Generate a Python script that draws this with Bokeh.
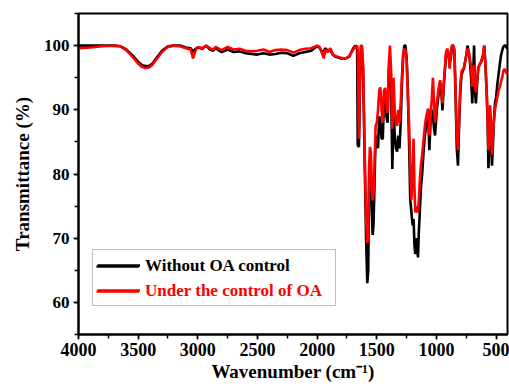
from bokeh.plotting import figure
from bokeh.models import Range1d, SingleIntervalTicker, Legend, LegendItem, ColumnDataSource
from bokeh.embed import file_html
from bokeh.resources import INLINE

# ---- data ----
wavenumber = [4000, 3900, 3800, 3700, 3650, 3600, 3550, 3500, 3470, 3440, 3410, 3380, 3350, 3300, 3250,
              3200, 3150, 3100, 3060, 3040, 3020, 3000, 2960, 2930, 2900, 2870, 2850, 2820, 2800, 2750,
              2700, 2650, 2600, 2550, 2500, 2450, 2400, 2350, 2300, 2250, 2200, 2150, 2100, 2050, 2000,
              1980, 1960, 1945, 1930, 1910, 1890, 1870, 1850, 1800, 1760, 1730, 1700, 1680, 1665, 1660,
              1650, 1640, 1632, 1625, 1615, 1600, 1590, 1580, 1572, 1565, 1558, 1550, 1542, 1535, 1528,
              1520, 1510, 1500, 1490, 1480, 1470, 1460, 1450, 1440, 1430, 1420, 1410, 1400, 1390, 1380,
              1370, 1360, 1350, 1340, 1330, 1320, 1310, 1300, 1290, 1280, 1270, 1260, 1250, 1240, 1230,
              1220, 1210, 1200, 1192, 1185, 1178, 1170, 1163, 1155, 1148, 1140, 1130, 1120, 1110, 1100,
              1090, 1080, 1070, 1060, 1050, 1040, 1030, 1020, 1012, 1005, 997, 985, 970, 960, 950,
              940, 930, 920, 910, 900, 890, 880, 870, 860, 850, 840, 830, 820, 810, 800,
              790, 770, 750, 740, 730, 720, 710, 700, 692, 685, 678, 670, 660, 650, 640,
              625, 610, 600, 590, 580, 572, 565, 558, 550, 542, 535, 528, 520, 510, 500,
              490, 480, 470, 460, 450, 440, 430, 420, 410, 405]

without_oa = [100.0, 100.0, 100.0, 100.0, 99.9, 99.4, 98.5, 97.5, 97.0, 96.8, 96.8, 97.2, 98.0, 99.2, 99.9,
              100.0, 100.0, 99.7, 99.6, 99.0, 99.5, 99.7, 99.5, 100.0, 99.4, 99.2, 99.6, 99.2, 99.0, 99.4,
              99.0, 99.1, 98.8, 98.7, 98.6, 98.8, 98.6, 98.7, 98.9, 98.8, 98.4, 98.8, 99.0, 99.2, 99.9,
              99.7, 99.0, 99.2, 99.6, 99.1, 99.3, 98.6, 98.3, 98.0, 98.0, 98.3, 99.5, 100.0, 99.5, 84.5,
              84.2, 95.0, 100.0, 99.5, 96.0, 80.0, 70.0, 63.0, 65.0, 78.0, 82.0, 80.0, 74.0, 70.5, 72.0,
              78.0, 86.0, 85.0, 84.0, 89.0, 88.0, 85.5, 85.5, 92.0, 93.0, 89.0, 88.0, 96.0, 97.0, 93.0,
              80.8, 90.0, 86.0, 84.0, 83.5, 86.0, 84.0, 88.0, 94.0, 98.0, 100.0, 100.0, 98.0, 93.0, 85.0,
              76.0, 74.0, 72.0, 73.0, 69.0, 67.5, 70.0, 69.0, 67.0, 71.0, 74.0, 78.0, 80.0, 83.0, 85.5,
              87.0, 88.5, 89.5, 83.7, 88.0, 90.0, 89.0, 87.0, 86.0, 88.0, 90.0, 92.0, 94.0, 93.0, 89.9,
              93.5, 96.0, 98.5, 99.3, 98.5, 97.5, 98.0, 100.0, 100.0, 99.0, 92.0, 84.0, 81.3, 88.0, 93.0,
              95.5, 96.5, 98.5, 100.0, 99.0, 97.5, 95.0, 91.0, 96.0, 100.0, 93.0, 91.0, 94.0, 96.5, 97.0,
              97.5, 98.5, 100.0, 97.0, 93.0, 88.8, 80.9, 84.0, 89.0, 86.0, 81.3, 84.0, 88.0, 91.0, 92.0,
              94.0, 95.5, 97.0, 98.4, 99.2, 99.8, 100.0, 100.0, 99.6, 99.5]

under_oa = [99.6, 99.7, 99.9, 100.0, 99.9, 99.3, 98.3, 97.2, 96.7, 96.5, 96.6, 97.0, 97.8, 99.0, 99.8,
            100.0, 99.9, 99.6, 99.4, 98.0, 99.2, 99.8, 99.6, 100.0, 99.6, 99.4, 99.8, 99.5, 99.3, 99.8,
            99.4, 99.5, 99.2, 99.1, 99.2, 99.4, 99.0, 99.3, 99.4, 99.3, 98.9, 99.3, 99.5, 99.6, 100.0,
            99.8, 98.9, 98.0, 99.4, 99.0, 99.6, 98.7, 98.4, 98.1, 98.0, 98.4, 99.3, 99.8, 100.0, 99.0,
            85.5, 97.0, 100.0, 100.0, 97.0, 82.0, 73.0, 69.3, 70.0, 81.0, 84.2, 83.5, 78.0, 75.9, 77.0,
            81.0, 87.5, 88.0, 90.0, 93.0, 93.5, 90.0, 88.0, 93.0, 93.4, 91.0, 89.5, 97.0, 100.0, 96.0,
            87.0, 95.0, 90.0, 88.0, 87.5, 90.0, 88.0, 91.0, 95.0, 98.5, 99.5, 99.3, 97.5, 92.0, 88.0,
            81.0, 76.0, 80.0, 85.5, 78.0, 74.0, 75.0, 74.5, 74.0, 76.0, 79.0, 81.5, 83.0, 85.0, 87.0,
            88.5, 89.5, 90.2, 86.0, 89.0, 91.5, 95.0, 91.0, 88.0, 89.5, 91.0, 93.0, 94.6, 93.5, 91.0,
            94.0, 96.5, 99.0, 99.5, 99.0, 96.4, 98.5, 100.0, 100.0, 99.5, 93.0, 86.0, 83.7, 89.0, 94.0,
            96.0, 96.5, 98.5, 99.5, 99.0, 98.0, 96.5, 93.6, 96.0, 97.0, 94.0, 92.7, 94.5, 96.5, 97.0,
            97.5, 98.5, 100.0, 97.0, 93.0, 89.0, 83.7, 85.0, 90.7, 87.0, 83.0, 86.0, 88.0, 90.0, 91.0,
            92.0, 93.0, 93.5, 94.3, 95.0, 96.0, 96.4, 96.0, 95.6, 95.5]

series_labels = ["Without OA control", "Under the control of OA"]
series_colors = ["#000000", "#ff0000"]
x_ticks_interval = 500
y_ticks_interval = 10

FONT = "Liberation Serif"

src = ColumnDataSource(dict(x=wavenumber, b=without_oa, r=under_oa))

p = figure(width=509, height=387, output_backend="svg", toolbar_location=None,
           x_range=Range1d(4000, 405), y_range=Range1d(55, 105),
           min_border_left=78, min_border_right=2, min_border_top=13, min_border_bottom=53)
p.background_fill_color = "white"
p.border_fill_color = "white"
p.outline_line_color = "black"
p.outline_line_width = 2
p.xgrid.visible = False
p.ygrid.visible = False

rb = p.line("x", "b", source=src, line_color=series_colors[0], line_width=2.6)
rr = p.line("x", "r", source=src, line_color=series_colors[1], line_width=2.6)

p.xaxis.ticker = SingleIntervalTicker(interval=x_ticks_interval, num_minor_ticks=2)
p.yaxis.ticker = SingleIntervalTicker(interval=y_ticks_interval, num_minor_ticks=2)
p.xaxis.axis_label = "Wavenumber (cm\u207b\u00b9)"
p.yaxis.axis_label = "Transmittance (%)"

for ax in (p.xaxis[0], p.yaxis[0]):
    ax.axis_line_color = "black"
    ax.axis_line_width = 2
    ax.major_tick_line_color = "black"
    ax.major_tick_line_width = 1.5
    ax.minor_tick_line_color = "black"
    ax.minor_tick_line_width = 1.5
    ax.major_tick_in = 0
    ax.major_tick_out = 5
    ax.minor_tick_in = 0
    ax.minor_tick_out = 4
    ax.major_label_text_font = FONT
    ax.major_label_text_font_style = "bold"
    ax.major_label_text_color = "black"
    ax.axis_label_text_font = FONT
    ax.axis_label_text_font_style = "bold"
    ax.axis_label_text_color = "black"

p.xaxis.major_label_text_font_size = "18px"
p.yaxis.major_label_text_font_size = "17px"
p.xaxis.axis_label_text_font_size = "19px"
p.yaxis.axis_label_text_font_size = "19px"
p.xaxis.major_label_standoff = 3
p.xaxis.axis_label_standoff = 2
p.yaxis.major_label_standoff = 4
p.yaxis.axis_label_standoff = 8

# legend: box + two rows (second row in red text)
PAD = 4
ROW_H = 22
SPACING = 3
LEG_X, LEG_Y = 14, 28
common = dict(padding=PAD, spacing=SPACING, glyph_width=43, glyph_height=ROW_H,
              label_height=ROW_H, label_standoff=6, margin=0,
              label_text_font=FONT, label_text_font_style="bold", label_text_font_size="17px")

box = Legend(items=[LegendItem(label=" ", renderers=[rb]), LegendItem(label=" ", renderers=[rr])],
             location=(LEG_X, LEG_Y), label_width=185, border_line_color="#808080", border_line_width=1,
             background_fill_color="white", background_fill_alpha=1.0, **common)
row1 = Legend(items=[LegendItem(label=series_labels[0], renderers=[rb])],
              location=(LEG_X, LEG_Y + ROW_H + SPACING), label_width=185, border_line_alpha=0,
              background_fill_alpha=0, label_text_color=series_colors[0], **common)
row2 = Legend(items=[LegendItem(label=series_labels[1], renderers=[rr])],
              location=(LEG_X, LEG_Y), label_width=185, border_line_alpha=0,
              background_fill_alpha=0, label_text_color=series_colors[1], **common)
for lg in (box, row1, row2):
    p.add_layout(lg, "center")

open("out.html", "w").write(file_html(p, INLINE))
